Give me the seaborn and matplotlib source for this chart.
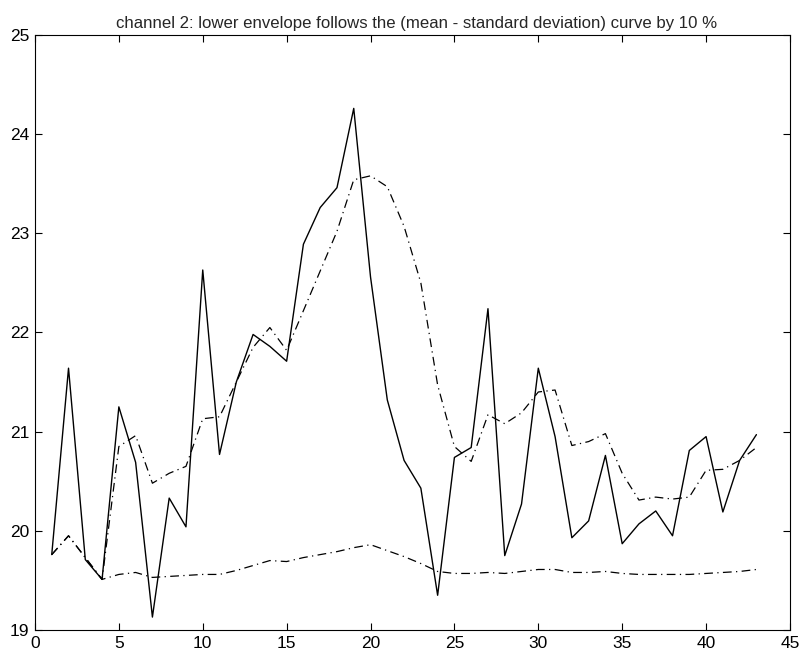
import matplotlib
matplotlib.use("Agg")
import matplotlib.pyplot as plt
import seaborn as sns
import pandas as pd

# Sample index
x = list(range(1, 44))

# Channel 2 signal
signal = [19.76, 21.64, 19.71, 19.51, 21.25, 20.69, 19.13, 20.33, 20.04, 22.63,
          20.77, 21.50, 21.98, 21.86, 21.71, 22.89, 23.26, 23.46, 24.26, 22.56,
          21.32, 20.71, 20.43, 19.35, 20.74, 20.84, 22.24, 19.75, 20.27, 21.64,
          20.95, 19.93, 20.10, 20.76, 19.87, 20.07, 20.20, 19.95, 20.81, 20.95,
          20.19, 20.71, 20.97]

# Upper envelope
upper = [19.76, 19.95, 19.73, 19.51, 20.85, 20.96, 20.48, 20.58, 20.65, 21.13,
         21.15, 21.50, 21.85, 22.05, 21.82, 22.22, 22.62, 23.02, 23.54, 23.58,
         23.47, 23.07, 22.50, 21.47, 20.85, 20.70, 21.17, 21.08, 21.19, 21.40,
         21.42, 20.86, 20.90, 20.98, 20.58, 20.31, 20.34, 20.32, 20.34, 20.61,
         20.62, 20.71, 20.84]

# Lower envelope
lower = [19.76, 19.95, 19.73, 19.51, 19.56, 19.58, 19.53, 19.54, 19.55, 19.56,
         19.56, 19.60, 19.65, 19.70, 19.69, 19.73, 19.76, 19.79, 19.83, 19.86,
         19.80, 19.74, 19.67, 19.59, 19.57, 19.57, 19.58, 19.57, 19.59, 19.61,
         19.61, 19.58, 19.58, 19.59, 19.57, 19.56, 19.56, 19.56, 19.56, 19.57,
         19.58, 19.59, 19.61]

x_ticks = [0, 5, 10, 15, 20, 25, 30, 35, 40, 45]
y_ticks = [19, 20, 21, 22, 23, 24, 25]
title = "channel 2: lower envelope follows the (mean - standard deviation) curve by 10 %"

sns.set_style("white")
plt.rcParams["font.family"] = ["Liberation Sans", "DejaVu Sans"]

df = pd.DataFrame({"x": x, "signal": signal, "upper": upper, "lower": lower})

fig = plt.figure(figsize=(8.02, 6.58), dpi=100)
ax = fig.add_axes([0.0436, 0.0426, 0.9414, 0.9042])

dashdot = (0, (7, 3.5, 1, 3.5))
sns.lineplot(data=df, x="x", y="signal", ax=ax, color="black", lw=1.0)
sns.lineplot(data=df, x="x", y="upper", ax=ax, color="black", lw=0.9, linestyle=dashdot)
sns.lineplot(data=df, x="x", y="lower", ax=ax, color="black", lw=0.9, linestyle=dashdot)

ax.set_xlim(0, 45)
ax.set_ylim(19, 25)
ax.set_xticks(x_ticks)
ax.set_yticks(y_ticks)
ax.set_xlabel("")
ax.set_ylabel("")
ax.set_title(title, fontsize=12.1, pad=5, x=0.506)

for side in ax.spines.values():
    side.set_visible(True)
    side.set_color("black")
    side.set_linewidth(0.8)

ax.tick_params(direction="in", length=5, width=0.8, colors="black",
               top=True, right=True, bottom=True, left=True,
               labelsize=12.5, pad=4)

fig.savefig("out.png", dpi=100, facecolor="white")
